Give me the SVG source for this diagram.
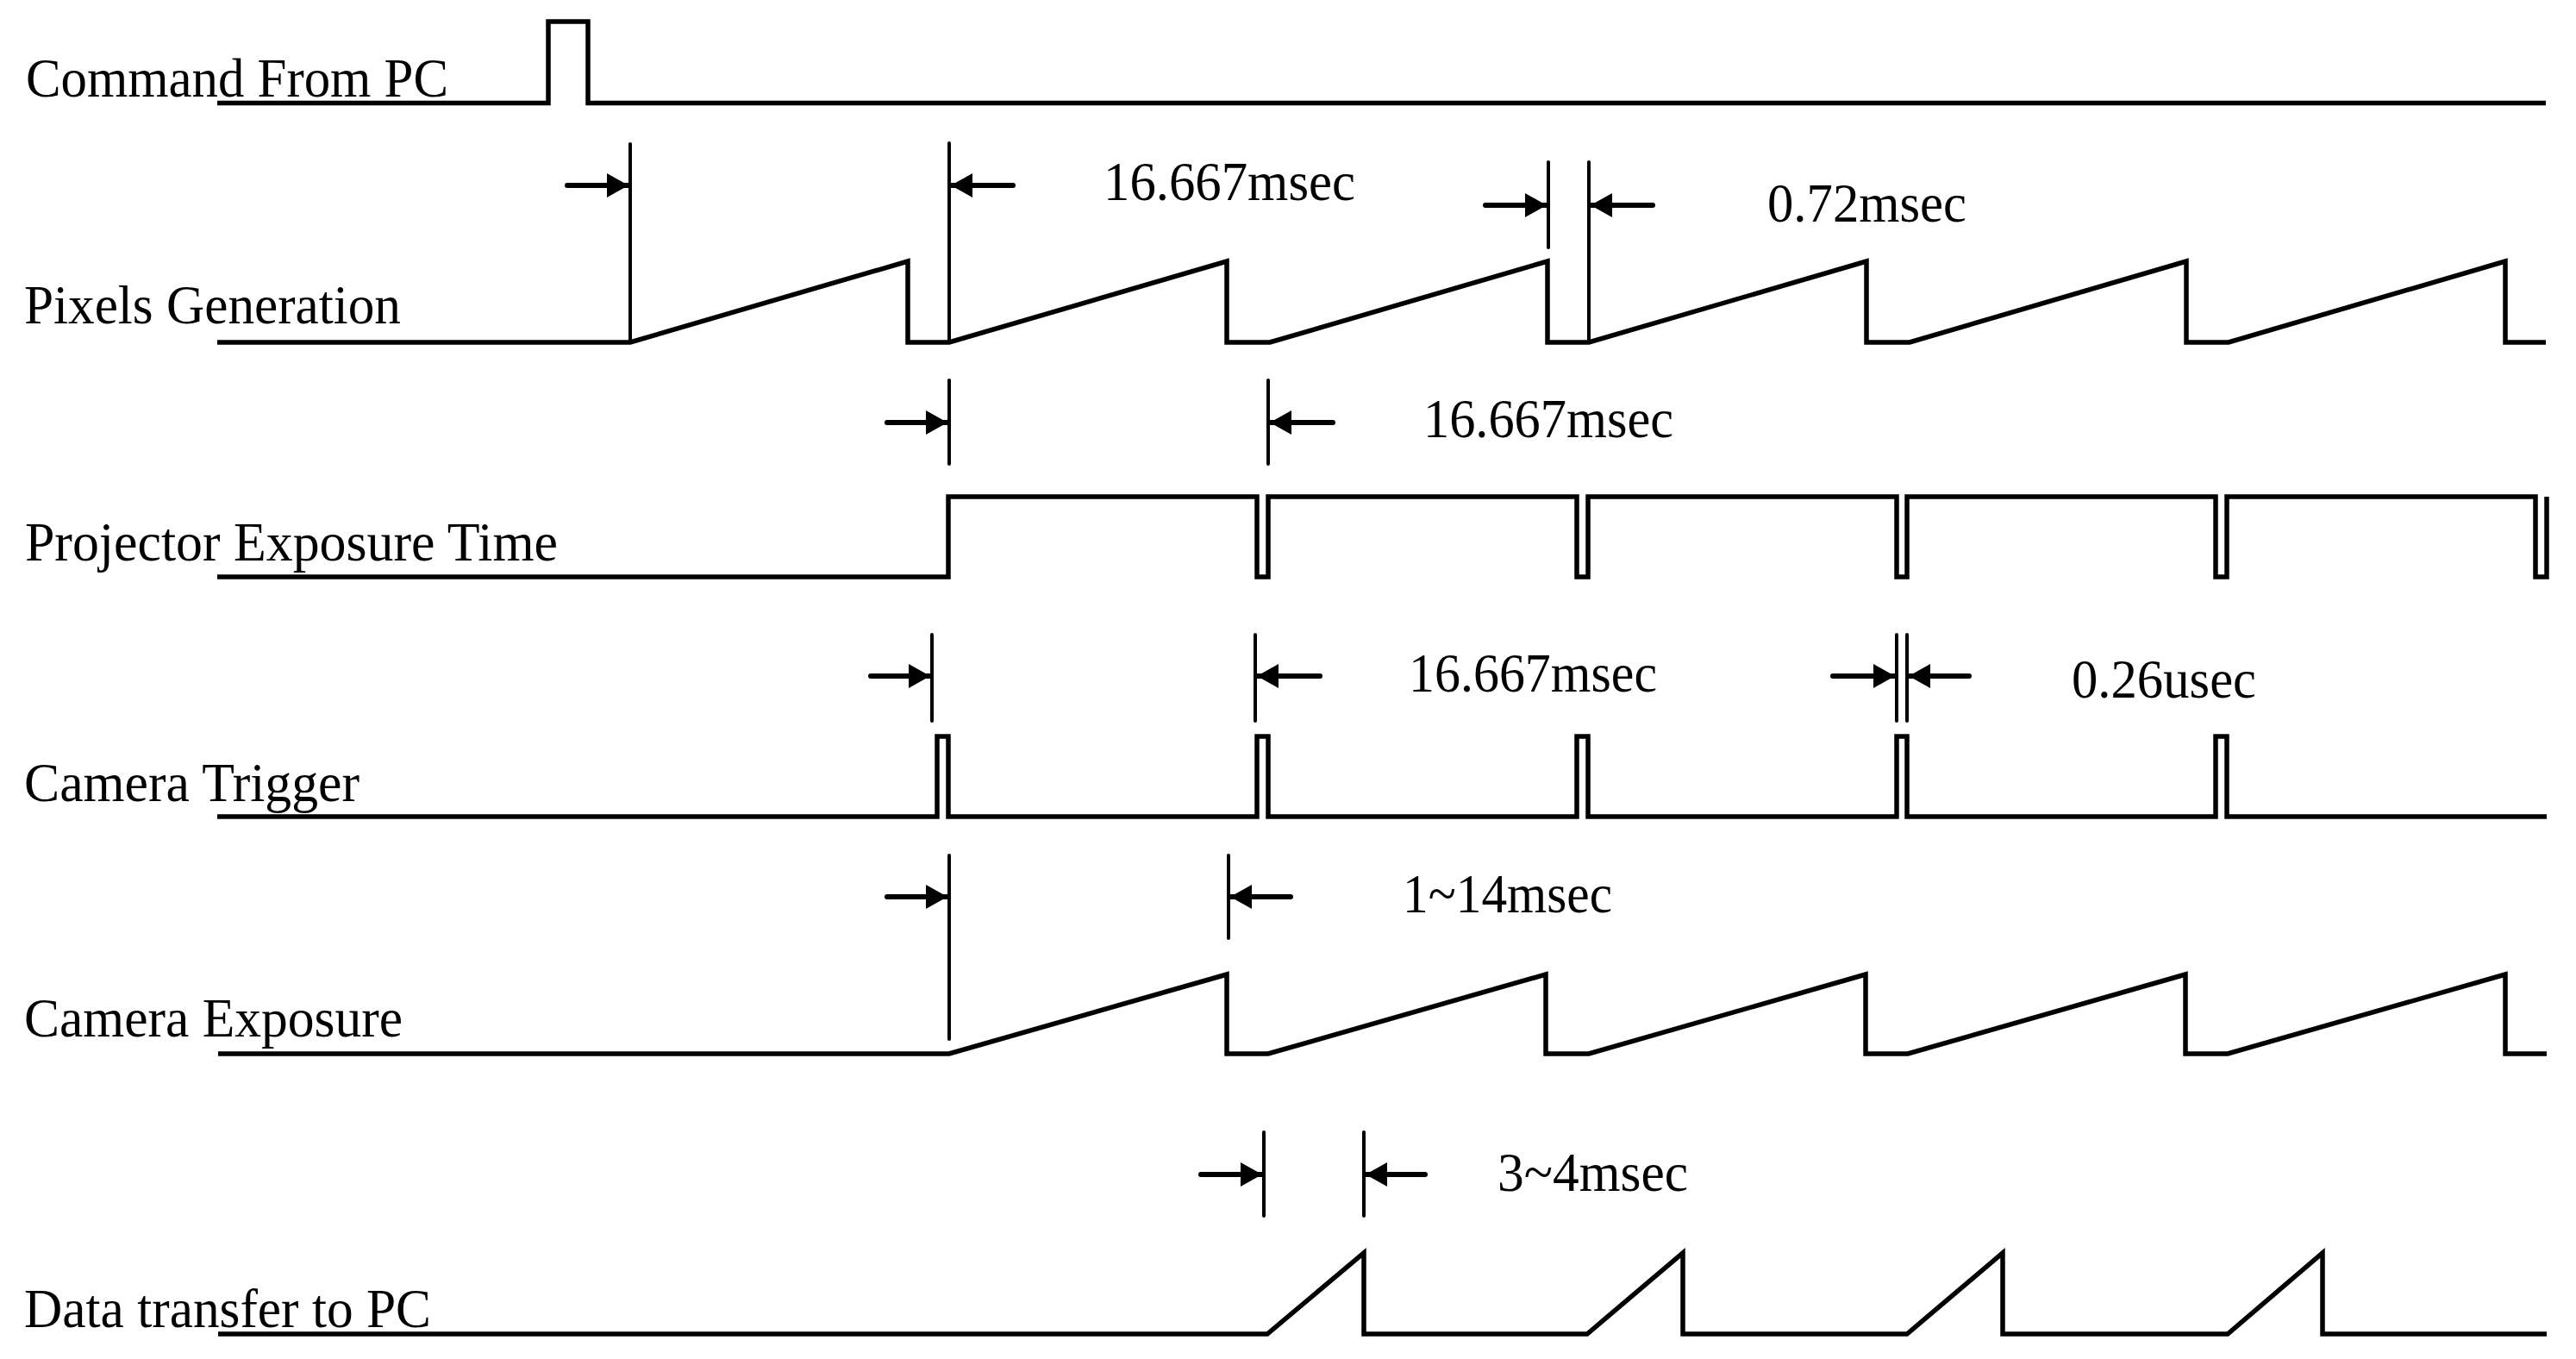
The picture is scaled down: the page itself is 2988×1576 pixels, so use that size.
<svg xmlns="http://www.w3.org/2000/svg" width="2988" height="1576" viewBox="0 0 2988 1576">
<defs>
<style>
.wave{fill:none;stroke:#000;stroke-width:5.5;stroke-linejoin:miter;stroke-linecap:butt}
.ext{fill:none;stroke:#000;stroke-width:4;stroke-linecap:round}
.arr{fill:none;stroke:#000;stroke-width:6;stroke-linecap:round;marker-end:url(#ah)}
.lbl{font-family:"Liberation Serif","Times New Roman",serif;font-size:63px;fill:#000}
</style>
<marker id="ah" viewBox="0 0 25 28" refX="25" refY="14" markerWidth="25" markerHeight="28" markerUnits="userSpaceOnUse" orient="auto">
<path d="M0,0 L25,14 L0,28 Z" fill="#000"/>
</marker>
</defs>
<rect width="2988" height="1576" fill="#fff"/>

<g id="command-from-pc">
<text class="lbl" x="30" y="112" textLength="490" lengthAdjust="spacingAndGlyphs">Command From PC</text>
<path class="wave" d="M252,119.5 H636 V25 H682 V119.5 H2953"/>
</g>

<g id="pixels-generation">
<text class="lbl" x="28" y="375" textLength="437" lengthAdjust="spacingAndGlyphs">Pixels Generation</text>
<path class="wave" d="M252,397 H731 L1053,303 V397 H1101 L1423,303 V397 H1473 L1795,303 V397 H1843 L2165,303 V397 H2215 L2536,303 V397 H2585 L2906,303 V397 H2953"/>
</g>

<g id="projector-exposure-time">
<text class="lbl" x="29" y="650" textLength="618" lengthAdjust="spacingAndGlyphs">Projector Exposure Time</text>
<path class="wave" d="M252,669 H1100 V576 H1458 V669 H1471 V576 H1829 V669 H1842 V576 H2200 V669 H2212 V576 H2570 V669 H2583 V576 H2941 V669 H2954 V576"/>
</g>

<g id="camera-trigger">
<text class="lbl" x="28" y="929" textLength="389" lengthAdjust="spacingAndGlyphs">Camera Trigger</text>
<path class="wave" d="M252,947 H1087 V854 H1100 V947 H1458 V854 H1471 V947 H1829 V854 H1842 V947 H2200 V854 H2212 V947 H2570 V854 H2583 V947 H2954"/>
</g>

<g id="camera-exposure">
<text class="lbl" x="28" y="1202" textLength="439" lengthAdjust="spacingAndGlyphs">Camera Exposure</text>
<path class="wave" d="M253,1222 H1101 L1423,1130 V1222 H1471 L1793,1130 V1222 H1843 L2164,1130 V1222 H2213 L2535,1130 V1222 H2584 L2906,1130 V1222 H2954"/>
</g>

<g id="data-transfer-to-pc">
<text class="lbl" x="28" y="1539" textLength="472" lengthAdjust="spacingAndGlyphs">Data transfer to PC</text>
<path class="wave" d="M253,1547 H1470 L1582,1453 V1547 H1841 L1952,1453 V1547 H2212 L2323,1453 V1547 H2584 L2694,1453 V1547 H2954"/>
</g>

<g id="connectors">
<line class="ext" x1="731" y1="167" x2="731" y2="397"/>
<line class="ext" x1="1101" y1="166" x2="1101" y2="397"/>
<line class="ext" x1="1796" y1="188" x2="1796" y2="287"/>
<line class="ext" x1="1843" y1="188" x2="1843" y2="397"/>
<line class="arr" x1="658" y1="215" x2="729" y2="215"/>
<line class="arr" x1="1175" y1="215" x2="1103" y2="215"/>
<line class="arr" x1="1723" y1="238" x2="1794" y2="238"/>
<line class="arr" x1="1917" y1="238" x2="1845" y2="238"/>
<text class="lbl" x="1280" y="232" textLength="292" lengthAdjust="spacingAndGlyphs">16.667msec</text>
<text class="lbl" x="2050" y="257" textLength="231" lengthAdjust="spacingAndGlyphs">0.72msec</text>

<line class="ext" x1="1101" y1="441" x2="1101" y2="538"/>
<line class="ext" x1="1471" y1="441" x2="1471" y2="538"/>
<line class="arr" x1="1029" y1="490" x2="1099" y2="490"/>
<line class="arr" x1="1546" y1="490" x2="1473" y2="490"/>
<text class="lbl" x="1651" y="507" textLength="290" lengthAdjust="spacingAndGlyphs">16.667msec</text>

<line class="ext" x1="1081" y1="736" x2="1081" y2="836"/>
<line class="ext" x1="1456" y1="736" x2="1456" y2="836"/>
<line class="ext" x1="2200" y1="736" x2="2200" y2="836"/>
<line class="ext" x1="2212" y1="736" x2="2212" y2="836"/>
<line class="arr" x1="1010" y1="784" x2="1079" y2="784"/>
<line class="arr" x1="1531" y1="784" x2="1458" y2="784"/>
<line class="arr" x1="2126" y1="784" x2="2198" y2="784"/>
<line class="arr" x1="2284" y1="784" x2="2214" y2="784"/>
<text class="lbl" x="1634" y="802" textLength="288" lengthAdjust="spacingAndGlyphs">16.667msec</text>
<text class="lbl" x="2403" y="809" textLength="214" lengthAdjust="spacingAndGlyphs">0.26usec</text>

<line class="ext" x1="1101" y1="992" x2="1101" y2="1205"/>
<line class="ext" x1="1425" y1="992" x2="1425" y2="1088"/>
<line class="arr" x1="1029" y1="1040" x2="1099" y2="1040"/>
<line class="arr" x1="1497" y1="1040" x2="1427" y2="1040"/>
<text class="lbl" x="1627" y="1058" textLength="243" lengthAdjust="spacingAndGlyphs">1~14msec</text>

<line class="ext" x1="1466" y1="1313" x2="1466" y2="1410"/>
<line class="ext" x1="1582" y1="1313" x2="1582" y2="1410"/>
<line class="arr" x1="1393" y1="1362" x2="1464" y2="1362"/>
<line class="arr" x1="1653" y1="1362" x2="1584" y2="1362"/>
<text class="lbl" x="1737" y="1381" textLength="221" lengthAdjust="spacingAndGlyphs">3~4msec</text>
</g>
</svg>
